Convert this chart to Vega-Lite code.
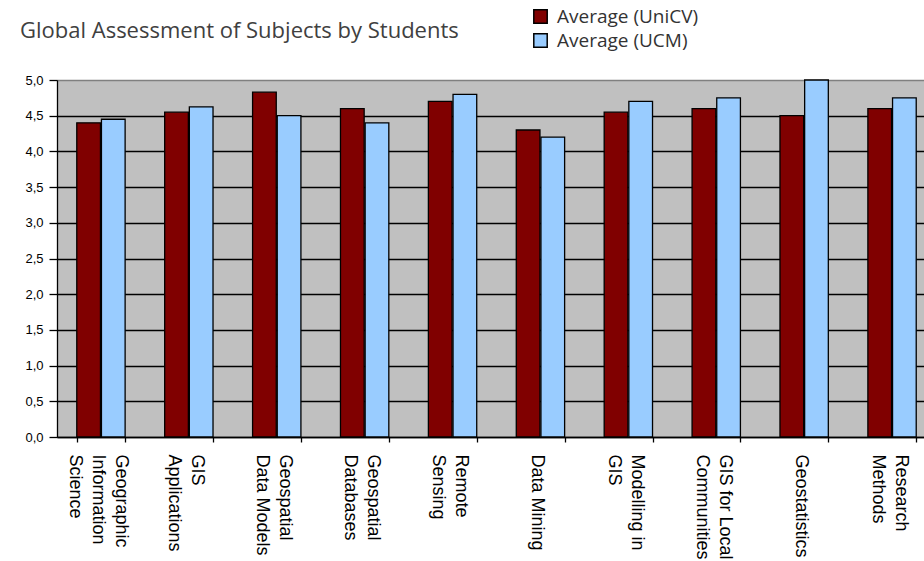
{
  "$schema": "https://vega.github.io/schema/vega-lite/v6.json",
  "width": 867,
  "height": 357,
  "autosize": "none",
  "padding": {"left": 57, "top": 80, "right": 0, "bottom": 124},
  "background": "white",
  "title": {
    "text": "Global Assessment of Subjects by Students",
    "anchor": "start",
    "frame": "group",
    "dx": -37,
    "offset": -53,
    "baseline": "alphabetic",
    "font": "Open Sans",
    "fontSize": 22,
    "fontWeight": "normal",
    "color": "#404040"
  },
  "data": {
    "values": [
      {"subject": "Geographic|Information|Science", "series": "Average (UniCV)", "value": 4.4},
      {"subject": "Geographic|Information|Science", "series": "Average (UCM)", "value": 4.45},
      {"subject": "GIS|Applications", "series": "Average (UniCV)", "value": 4.55},
      {"subject": "GIS|Applications", "series": "Average (UCM)", "value": 4.625},
      {"subject": "Geospatial|Data Models", "series": "Average (UniCV)", "value": 4.83},
      {"subject": "Geospatial|Data Models", "series": "Average (UCM)", "value": 4.5},
      {"subject": "Geospatial|Databases", "series": "Average (UniCV)", "value": 4.6},
      {"subject": "Geospatial|Databases", "series": "Average (UCM)", "value": 4.4},
      {"subject": "Remote|Sensing", "series": "Average (UniCV)", "value": 4.7},
      {"subject": "Remote|Sensing", "series": "Average (UCM)", "value": 4.8},
      {"subject": "Data Mining", "series": "Average (UniCV)", "value": 4.3},
      {"subject": "Data Mining", "series": "Average (UCM)", "value": 4.2},
      {"subject": "Modelling in|GIS", "series": "Average (UniCV)", "value": 4.55},
      {"subject": "Modelling in|GIS", "series": "Average (UCM)", "value": 4.7},
      {"subject": "GIS for Local|Communities", "series": "Average (UniCV)", "value": 4.6},
      {"subject": "GIS for Local|Communities", "series": "Average (UCM)", "value": 4.75},
      {"subject": "Geostatistics", "series": "Average (UniCV)", "value": 4.5},
      {"subject": "Geostatistics", "series": "Average (UCM)", "value": 5.0},
      {"subject": "Research|Methods", "series": "Average (UniCV)", "value": 4.6},
      {"subject": "Research|Methods", "series": "Average (UCM)", "value": 4.75}
    ]
  },
  "mark": {"type": "bar", "stroke": "#000000", "strokeWidth": 1.3},
  "encoding": {
    "x": {
      "field": "subject",
      "type": "nominal",
      "sort": null,
      "scale": {"paddingInner": 0.45, "paddingOuter": 0.225, "range": [0, 879]},
      "axis": {
        "title": null,
        "labelAngle": 90,
        "labelExpr": "split(datum.label, '|')",
        "labelFont": "Liberation Sans",
        "labelFontSize": 18,
        "labelLineHeight": 23,
        "labelColor": "#000000",
        "labelPadding": 12,
        "labelAlign": "left",
        "labelOffset": {"condition": {"test": "length(split(datum.value, '|')) == 3", "value": 20}, "value": 8},
        "labelBaseline": {"condition": {"test": "length(split(datum.value, '|')) == 1", "value": "line-top"}, "value": "middle"},
        "labelOverlap": false,
        "labelBound": false,
        "labelLimit": 300,
        "tickBand": "extent",
        "tickSize": 5,
        "tickColor": "#000000",
        "domainColor": "#000000",
        "grid": false
      }
    },
    "xOffset": {
      "field": "series",
      "type": "nominal",
      "sort": ["Average (UniCV)", "Average (UCM)"],
      "scale": {"paddingInner": 0.04}
    },
    "y": {
      "field": "value",
      "type": "quantitative",
      "scale": {"domain": [0, 5], "nice": false, "zero": true},
      "axis": {
        "title": null,
        "values": [0, 0.5, 1, 1.5, 2, 2.5, 3, 3.5, 4, 4.5, 5],
        "labelExpr": "replace(format(datum.value, '.1f'), '.', ',')",
        "labelFont": "Liberation Sans",
        "labelFontSize": 13,
        "labelColor": "#000000",
        "labelPadding": 6,
        "tickSize": 8,
        "tickColor": "#000000",
        "domainColor": "#000000",
        "grid": true,
        "gridColor": {"condition": {"test": "datum.value == 5", "value": "#808080"}, "value": "#000000"},
        "gridOpacity": 1,
        "gridWidth": 1.3
      }
    },
    "color": {
      "field": "series",
      "type": "nominal",
      "sort": ["Average (UniCV)", "Average (UCM)"],
      "scale": {"domain": ["Average (UniCV)", "Average (UCM)"], "range": ["#800000", "#99CCFF"]},
      "legend": {
        "title": null,
        "orient": "none",
        "legendX": 474,
        "legendY": -73,
        "padding": 0,
        "symbolType": "square",
        "symbolSize": 180,
        "symbolStrokeColor": "#000000",
        "symbolStrokeWidth": 1.5,
        "symbolOpacity": 1,
        "labelFont": "Open Sans",
        "labelFontSize": 19,
        "labelColor": "#333333",
        "labelOffset": 7,
        "rowPadding": 3
      }
    }
  },
  "config": {
    "view": {"fill": "#C0C0C0", "stroke": "#808080"},
    "axis": {"domainWidth": 1.3, "tickWidth": 1.3}
  }
}
